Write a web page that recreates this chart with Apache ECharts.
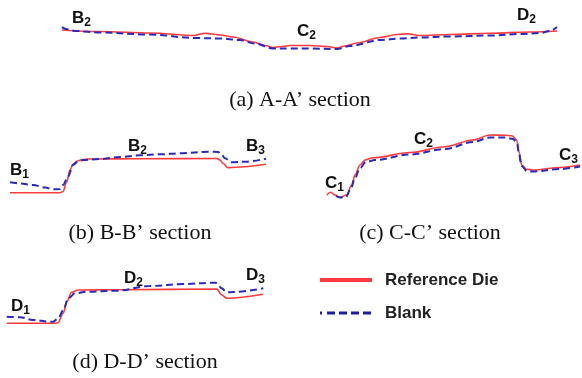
<!DOCTYPE html>
<html>
<head>
<meta charset="utf-8">
<script src="https://cdn.jsdelivr.net/npm/echarts@6/dist/echarts.min.js"></script>
<style>html,body{margin:0;padding:0;background:#fff}#c{width:582px;height:378px}</style>
</head>
<body>
<div id="c"></div>
<script>
// Panel (a) A-A' section: [distance, height]
const aRef = [[7,25],[45,23.5],[95,22],[140,19.5],[145,21],[150,21.7],[157,21],[165,20],[178,18],[198,13],[210,9.5],[218,7.5],[227,8.5],[235,9.5],[255,9.5],[272,8.5],[282,7],[290,9],[302,12],[325,17.5],[342,20.5],[353,21.3],[358,20.5],[363,19.5],[395,20.5],[435,21.7],[475,23],[502,24]];
const aBlank = [[7,28],[11,26],[20,24],[45,22.5],[95,20.5],[140,17],[165,16.5],[185,15],[200,11.5],[218,6.5],[235,6.5],[255,6.5],[282,6],[295,9],[325,15],[345,16.5],[365,17.5],[395,18.5],[435,19.5],[465,21],[485,22],[495,24],[502,28]];
// Panel (b) B-B' section
const bRef = [[5,7.3],[55,7.3],[58,8.5],[61.7,18],[65,30],[68,36],[73,39.3],[82,41],[135,41.3],[212,41.5],[215,40],[218,36.7],[223,32.3],[230,32.7],[261,35.7]];
const bBlank = [[5,17.7],[15,16.5],[28,15],[40,12.5],[48,10.7],[55,11],[58,15],[63,23.3],[68,35],[73,38.5],[78,40],[95,41],[115,43],[135,44.7],[155,45.7],[175,46.7],[205,48.3],[213,48],[217,45],[220,41.7],[227,37.7],[240,38.3],[261,41.3]];
// Panel (c) C-C' section
const cRef = [[6.7,10],[10.7,12.7],[15,10],[20,7.7],[26.7,10],[31.7,20],[35,30],[40,40],[45,45],[53,47.3],[90,52.5],[125,58.3],[153,65],[170,70],[185,69.7],[191.7,69.3],[196.7,65],[199,53.3],[201.7,40],[206.7,35.7],[213,35],[240,37.5],[260,40]];
const cBlank = [[16,9],[20,7.5],[26,8],[31,17],[35,27],[40,37],[46,43],[55,45],[90,50.5],[125,56],[153,63],[170,67.5],[185,67.5],[193,66],[197,62],[199,51],[201.5,39],[207,34],[213,33.5],[240,36],[260,38.5]];
// Panel (d) D-D' section
const dRef = [[1.7,6.7],[50,6.7],[53,7.3],[58.3,17],[61.7,28.3],[66.7,37.7],[73,40],[115,40.2],[211.7,41],[216.7,35],[221.7,31.7],[258,35.7]];
const dBlank = [[1.7,13.3],[15,12.7],[28,10],[45,8.3],[48,8.3],[53.3,11.7],[58.3,20],[63.3,31.7],[70,36.7],[81.7,38.3],[111.7,39.3],[145,44],[178.3,46],[208.3,47.3],[211.7,47],[216.7,41.7],[221.7,37.7],[228,38],[258.3,41.7]];

const captions = ["(a) A-A\u2019 section", "(b) B-B\u2019 section", "(c) C-C\u2019 section", "(d) D-D\u2019 section"];
const pointLabels = [["B","2"],["C","2"],["D","2"],["B","1"],["B","2"],["B","3"],["C","1"],["C","2"],["C","3"],["D","1"],["D","2"],["D","3"]];
const legendNames = ["Reference Die", "Blank"];

const RED = '#ff3b3b', BLUE = '#2828c4';
const grids = [
  {left:55, top:20, width:510, height:35, xmax:510, ymax:35},
  {left:5, top:140, width:265, height:60, xmax:265, ymax:60},
  {left:320, top:125, width:262, height:80, xmax:262, ymax:80},
  {left:5, top:270, width:265, height:60, xmax:265, ymax:60}
];
const panelData = [[aRef,aBlank],[bRef,bBlank],[cRef,cBlank],[dRef,dBlank]];

const option = {
  animation:false,
  grid: grids.map(g=>({left:g.left, top:g.top, width:g.width, height:g.height, show:false})),
  xAxis: grids.map((g,i)=>({type:'value', gridIndex:i, min:0, max:g.xmax, show:false})),
  yAxis: grids.map((g,i)=>({type:'value', gridIndex:i, min:0, max:g.ymax, show:false})),
  series: []
};
panelData.forEach((pd,i)=>{
  option.series.push({type:'line', name:legendNames[0], xAxisIndex:i, yAxisIndex:i, data:pd[0], showSymbol:false, smooth:0.35, smoothMonotone:'x', lineStyle:{color:RED, width:1.6}, z:2});
  option.series.push({type:'line', name:legendNames[1], xAxisIndex:i, yAxisIndex:i, data:pd[1], showSymbol:false, smooth:0.35, smoothMonotone:'x', lineStyle:{color:BLUE, width:2, type:[7,4]}, z:3});
});

const labelPos = [[72,18],[297,31],[517,15],[10,170],[128,146],[246,146],[325,183],[414,139],[559,155],[11,306],[124,278],[246,275]];
const graphic = [];
pointLabels.forEach((pl,i)=>{
  graphic.push({type:'text', x:labelPos[i][0], y:labelPos[i][1], style:{
    text:'{m|'+pl[0]+'}{s|'+pl[1]+'}', verticalAlign:'middle',
    rich:{m:{fontFamily:'Liberation Sans, Arial', fontWeight:'bold', fontSize:17, fill:'#111'},
          s:{fontFamily:'Liberation Sans, Arial', fontWeight:'bold', fontSize:12, fill:'#111', padding:[10,0,0,0]}}
  }});
});
const capPos = [[300,100],[140,233],[430,233],[145,362]];
captions.forEach((c,i)=>{
  graphic.push({type:'text', x:capPos[i][0], y:capPos[i][1], style:{text:c, align:'center', verticalAlign:'middle', font:'22px "Liberation Serif", "Times New Roman", serif', fill:'#111'}});
});
graphic.push({type:'line', shape:{x1:320,y1:280,x2:372,y2:280}, style:{stroke:RED, lineWidth:4}});
graphic.push({type:'line', shape:{x1:320,y1:313,x2:372,y2:313}, style:{stroke:'#1c1ca8', lineWidth:3, lineDash:[2,5,8,4,8,4,8,4,8,4]}});
graphic.push({type:'text', x:385, y:280, style:{text:legendNames[0], verticalAlign:'middle', font:'bold 17px "Liberation Sans", Arial, sans-serif', fill:'#222'}});
graphic.push({type:'text', x:385, y:313, style:{text:legendNames[1], verticalAlign:'middle', font:'bold 17px "Liberation Sans", Arial, sans-serif', fill:'#222'}});
option.graphic = graphic;

const chart = echarts.init(document.getElementById('c'), null, {renderer:'canvas'});
chart.setOption(option);
</script>
</body>
</html>
